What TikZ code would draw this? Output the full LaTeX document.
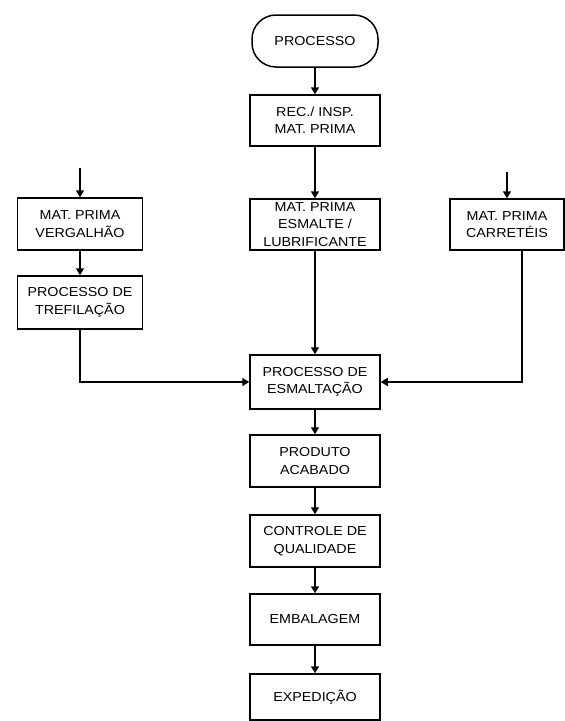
\documentclass[tikz,border=0pt]{standalone}
\usepackage{fontspec}
\setmainfont{Liberation Sans}[FakeStretch=1.1]
\usetikzlibrary{arrows.meta}
\tikzset{
  box/.style={draw, line width=1.5pt, minimum width=130pt, minimum height=52pt,
    align=center, inner sep=0pt, font=\fontsize{13}{17.5}\selectfont},
  term/.style={box, rounded corners=24pt, minimum width=126pt},
  arr/.style={line width=1.5pt, -{Triangle[width=8pt,length=7pt]}},
}
\begin{document}
\begin{tikzpicture}[x=1pt,y=-1pt]
\useasboundingbox[fill=white] (0,0) rectangle (565,721);
% main column
\node[term] (proc) at (315,41) {PROCESSO};
\node[box, minimum height=51pt] (rec) at (315,120.5) {REC./ INSP.\\MAT. PRIMA};
\node[box, minimum height=51pt] (esm) at (315,224.5) {MAT. PRIMA\\ESMALTE /\\LUBRIFICANTE};
\node[box, minimum height=54pt] (esmal) at (315,382) {PROCESSO DE\\ESMALTAÇÃO};
\node[box] (prod) at (315,461) {PRODUTO\\ACABADO};
\node[box] (ctrl) at (315,541) {CONTROLE DE\\QUALIDADE};
\node[box, minimum height=51pt] (emb) at (315,619.5) {EMBALAGEM};
\node[box, minimum height=46pt] (exp) at (315,697) {EXPEDIÇÃO};
% left column
\node[box, minimum width=125pt] (verg) at (80,224) {MAT. PRIMA\\VERGALHÃO};
\node[box, minimum width=125pt, minimum height=53pt] (tref) at (80,302.5) {PROCESSO DE\\TREFILAÇÃO};
% right column
\node[box, minimum width=114pt, minimum height=51pt] (carr) at (507,224.5) {MAT. PRIMA\\CARRETÉIS};
% free ends
\coordinate (vin) at (80,168);
\coordinate (cin) at (507,172);
% connectors
\draw[arr] (proc) -- (rec);
\draw[arr] (rec) -- (esm);
\draw[arr] (esm) -- (esmal);
\draw[arr] (esmal) -- (prod);
\draw[arr] (prod) -- (ctrl);
\draw[arr] (ctrl) -- (emb);
\draw[arr] (emb) -- (exp);
\draw[arr] (vin) -- (verg);
\draw[arr] (verg) -- (tref);
\draw[arr] (cin) -- (carr);
\draw[arr] (tref.south) |- (esmal.west);
\draw[arr] ([xshift=15pt]carr.south) |- (esmal.east);
\end{tikzpicture}
\end{document}
